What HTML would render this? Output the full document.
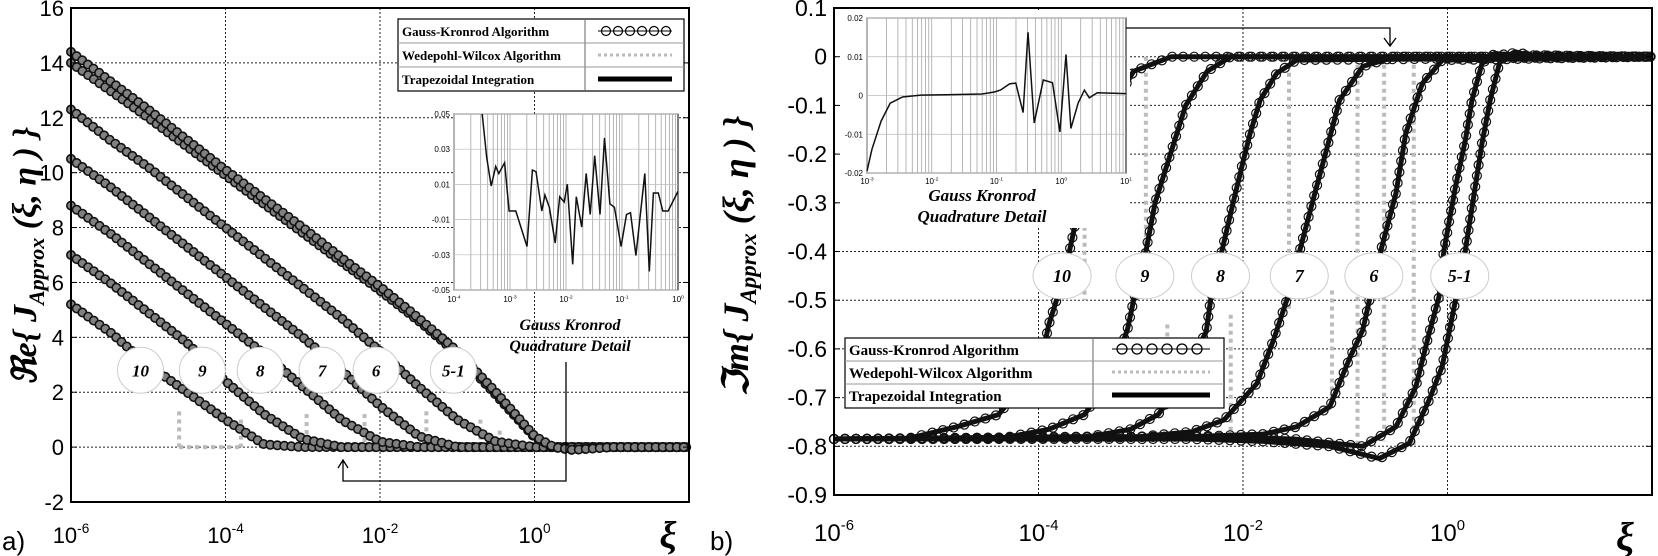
<!DOCTYPE html>
<html><head><meta charset="utf-8"><style>
html,body{margin:0;padding:0;background:#fff;}
svg{display:block;font-family:"Liberation Sans",sans-serif;}
.ser{font-family:"Liberation Serif",serif;font-weight:bold;}
</style></head><body>
<svg id="fig" width="1658" height="556" viewBox="0 0 1658 556" xmlns="http://www.w3.org/2000/svg">
<g id="layerL"></g>
<g id="layerR"></g>
</svg>
<script>
// ---------- Panel a data (log10 xi grid, Re values) ----------
const reLogX = [-6,-5.5,-5,-4.5,-4,-3.5,-3,-2.5,-2,-1.5,-1,-0.5,0,0.25,0.5,1,1.5,2];
const reCurve10 = [5.2,4.2,3.0,2.0,1.0,0.1,0,0,0,0,0,0,0,0,0,0,0,0];
const reCurve9 = [7.0,6.0,4.9,3.8,2.4,1.2,0.3,0,0,0,0,0,0,0,0,0,0,0];
const reCurve8 = [8.8,7.8,6.7,5.6,4.5,3.4,2.2,1.0,0.2,0,0,0,0,0,0,0,0,0];
const reCurve7 = [10.5,9.5,8.4,7.3,6.2,5.1,4.0,2.8,1.5,0.4,0,0,0,0,0,0,0,0];
const reCurve6 = [12.3,11.2,10.2,9.1,8.0,6.9,5.8,4.7,3.5,2.2,1.0,0.2,0,0,0,0,0,0];
const reCurve5a = [14.4,13.35,12.3,11.2,10.1,9.05,8.0,6.9,5.85,4.7,3.5,2.0,0.4,0.0,-0.1,0,0,0];
const reCurve5b = [14.0,13.0,12.0,10.95,9.9,8.85,7.8,6.75,5.7,4.6,3.4,1.9,0.35,0.0,-0.1,0,0,0];
const reYTicks = [-2,0,2,4,6,8,10,12,14,16];
const reXTicks = [-6,-4,-2,0];
const reLabels = ["10","9","8","7","6","5-1"];
const reLabelLogX = [-5.1,-4.3,-3.55,-2.75,-2.05,-1.05];
const reLabelVal = [2.8,2.8,2.8,2.8,2.8,2.8];
// inset a
const insALogX = [-3.496,-3.416,-3.336,-3.256,-3.2,-3.096,-3.016,-2.896,-2.696,-2.6,-2.536,-2.432,-2.376,-2.296,-2.192,-2.112,-2.032,-1.976,-1.88,-1.816,-1.72,-1.64,-1.568,-1.488,-1.392,-1.312,-1.216,-1.136,-1.016,-0.92,-0.848,-0.752,-0.592,-0.512,-0.44,-0.352,-0.272,-0.176,0];
const insAVal = [0.05,0.0253,0.0091,0.0202,0.0162,0.0223,-0.0051,-0.0051,-0.0253,0.0182,0.0172,-0.0051,0.004,-0.0031,-0.0233,0.003,0,0.0101,-0.0354,0.003,-0.0142,0.0162,-0.0071,0.0263,-0.0071,0.0364,-0.001,-0.003,-0.0253,-0.0071,-0.0061,-0.0304,0.0162,-0.0395,0.0051,0.0051,-0.0051,-0.0051,0.0061];
const insAYTicks = [-0.05,-0.03,-0.01,0.01,0.03,0.05];
const insAXTicks = [-4,-3,-2,-1,0];

// ---------- Panel b data ----------
const imC10X = [-6,-5.3,-4.8,-4.39,-4.1,-3.95,-3.9,-3.75,-3.65,-3.54,-3.4,-3.07,-2.7,2];
const imC10V = [-0.785,-0.785,-0.76,-0.735,-0.66,-0.6,-0.551,-0.45,-0.353,-0.257,-0.15,-0.03,0,0];
const imC9X = [-6,-4.4,-3.9,-3.55,-3.3,-3.13,-3.07,-2.95,-2.86,-2.71,-2.56,-2.35,-2.12,2];
const imC9V = [-0.785,-0.785,-0.765,-0.735,-0.66,-0.56,-0.5,-0.4,-0.3,-0.2,-0.1,-0.03,0,0];
const imC8X = [-6,-3.5,-3.1,-2.83,-2.6,-2.45,-2.36,-2.317,-2.204,-2.09,-1.993,-1.93,-1.832,-1.67,-1.476,2];
const imC8V = [-0.785,-0.78,-0.765,-0.735,-0.67,-0.6,-0.565,-0.5,-0.397,-0.294,-0.21,-0.157,-0.089,-0.034,-0.007,0];
const imC7X = [-6,-3,-2.5,-2.187,-1.864,-1.702,-1.573,-1.444,-1.314,-1.184,-1.055,-0.828,-0.505,2];
const imC7V = [-0.785,-0.78,-0.77,-0.746,-0.671,-0.582,-0.5,-0.397,-0.294,-0.192,-0.089,-0.02,0,0];
const imC6X = [-6,-2.5,-1.8,-1.476,-1.152,-0.958,-0.828,-0.764,-0.65,-0.505,-0.408,-0.246,-0.052,2];
const imC6V = [-0.785,-0.78,-0.775,-0.76,-0.719,-0.62,-0.561,-0.5,-0.397,-0.281,-0.157,-0.055,-0.007,0];
const imC5aX = [-6,-2.5,-1.5,-0.828,-0.505,-0.31,-0.18,-0.083,-0.034,0.078,0.175,0.24,0.337,0.466,0.6,2];
const imC5aV = [-0.785,-0.78,-0.785,-0.8,-0.76,-0.678,-0.568,-0.493,-0.397,-0.267,-0.171,-0.089,-0.014,0.007,0.003,0];
const imC5bX = [-6,-2.5,-1.8,-1.15,-0.667,-0.376,-0.18,-0.052,0.078,0.175,0.256,0.337,0.418,0.515,0.66,0.8,2];
const imC5bV = [-0.785,-0.785,-0.79,-0.8,-0.825,-0.794,-0.705,-0.636,-0.5,-0.397,-0.287,-0.178,-0.089,-0.007,0.01,0.003,0];
const imYTicks = [-0.9,-0.8,-0.7,-0.6,-0.5,-0.4,-0.3,-0.2,-0.1,0,0.1];
const imYTickText = ["-0.9","-0.8","-0.7","-0.6","-0.5","-0.4","-0.3","-0.2","-0.1","0","0.1"];
const imXTicks = [-6,-4,-2,0];
const imLabels = ["10","9","8","7","6","5-1"];
const imLabelLogX = [-3.77,-2.96,-2.22,-1.45,-0.72,0.12];
const imLabelVal = [-0.45,-0.45,-0.45,-0.45,-0.45,-0.45];
// inset b
const insBLogX = [-3,-2.924,-2.782,-2.641,-2.452,-2.168,-1.79,-1.222,-1.033,-0.939,-0.797,-0.702,-0.589,-0.513,-0.418,-0.277,-0.135,-0.021,0.073,0.149,0.262,0.357,0.433,0.556,1];
const insBVal = [-0.0195,-0.0139,-0.0066,-0.002,-0.0004,0.0001,0.0002,0.0004,0.0009,0.0014,0.003,0.0032,-0.0044,0.0163,-0.0071,0.004,0.0033,-0.0094,0.0106,-0.0085,-0.0019,0.0014,-0.0006,0.0007,0.0005];
const insBYTicks = [-0.02,-0.01,0,0.01,0.02];
const insBXTicks = [-3,-2,-1,0,1];

const NS = "http://www.w3.org/2000/svg";
function mk(parent, tag, attrs, text){
  const e = document.createElementNS(NS, tag);
  for (const k in attrs) e.setAttribute(k, attrs[k]);
  if (text !== undefined) e.textContent = text;
  parent.appendChild(e);
  return e;
}
function axisLin(v0,v1,p0,p1){ return v => p0 + (v-v0)/(v1-v0)*(p1-p0); }

const LA = {x0:71,x1:689,y0:8,y1:502,lmin:-6,lmax:2,vmin:-2,vmax:16};
const RA = {x0:834,x1:1652,y0:8,y1:495,lmin:-6,lmax:2,vmin:-0.9,vmax:0.1};
function pathD(xs,vs,sx,sy){ return xs.map((l,i)=>(i?"L":"M")+sx(l).toFixed(1)+","+sy(vs[i]).toFixed(1)).join(" "); }
function markersAlong(g, path, step, r, fill, sw){
  const len = path.getTotalLength();
  for (let s=0; s<=len; s+=step){
    const p = path.getPointAtLength(s);
    const c = mk(g,"circle",{cx:p.x.toFixed(1),cy:p.y.toFixed(1),r:r,fill:fill,stroke:"#111","stroke-width":sw});
    
    
  }
}
function xTickLabel(g,x,y,exp,fs){
  const t = mk(g,"text",{x:x,y:y,"text-anchor":"middle","font-size":fs});
  
  
  mk(t,"tspan",{},"10");
  mk(t,"tspan",{dy:-fs*0.45,"font-size":fs*0.62},String(exp));
}

// ================= Panel A =================
(function(){
  const g = document.getElementById("layerL");
  const sx = axisLin(LA.lmin,LA.lmax,LA.x0,LA.x1), sy = axisLin(LA.vmin,LA.vmax,LA.y1,LA.y0);
  const grid = mk(g,"g",{});
   
  reYTicks.forEach(v=>{ if(v>LA.vmin && v<LA.vmax) mk(grid,"line",{x1:LA.x0,x2:LA.x1,y1:sy(v),y2:sy(v),stroke:"#222","stroke-width":1,"stroke-dasharray":"2,2"}); });
  reXTicks.forEach(l=>{ if(l>LA.lmin) mk(grid,"line",{x1:sx(l),x2:sx(l),y1:LA.y0,y2:LA.y1,stroke:"#222","stroke-width":1,"stroke-dasharray":"2,2"}); });
  const ww = mk(g,"g",{stroke:"#bbb","stroke-width":4,"stroke-dasharray":"4,4",fill:"none"});
   
  [[-4.6,1.3],[-3.8,1.0],[-2.95,1.2],[-2.2,1.2],[-1.4,1.3],[-0.7,1.0],[-0.45,0.6]].forEach(p=>{
    mk(ww,"line",{x1:sx(p[0]),x2:sx(p[0]),y1:sy(p[1]),y2:sy(0)});
  });
  mk(ww,"line",{x1:sx(-4.6),x2:sx(-3.8),y1:sy(0),y2:sy(0)});
  const curves = [reCurve10,reCurve9,reCurve8,reCurve7,reCurve6,reCurve5b,reCurve5a];
  curves.forEach((c,i)=>{
    const cg = mk(g,"g",{});
     
    const p = mk(cg,"path",{d:pathD(reLogX,c,sx,sy),fill:"none",stroke:"#111","stroke-width":3});
    markersAlong(cg,p,7,4.2,"#808080",1.6);
  });
  const ax = mk(g,"rect",{x:LA.x0,y:LA.y0,width:LA.x1-LA.x0,height:LA.y1-LA.y0,fill:"none",stroke:"#000","stroke-width":2});
   
  reYTicks.forEach(v=>{
    mk(g,"line",{x1:LA.x0,x2:LA.x0+6,y1:sy(v),y2:sy(v),stroke:"#000"});
    mk(g,"line",{x1:LA.x1,x2:LA.x1-6,y1:sy(v),y2:sy(v),stroke:"#000"});
    const t = mk(g,"text",{x:64,y:sy(v)+8,"text-anchor":"end","font-size":22},String(v));
     
  });
  reXTicks.forEach(l=> xTickLabel(g,sx(l),543,l,22));
  reLabels.forEach((s,i)=>{
    const lg = mk(g,"g",{});
     
    const cx = sx(reLabelLogX[i]), cy = sy(reLabelVal[i]);
    mk(lg,"ellipse",{cx:cx,cy:cy,rx:23,ry:23,fill:"#fff",stroke:"#ccc","stroke-width":1});
    mk(lg,"text",{x:cx,y:cy+6,"text-anchor":"middle","font-size":17,"font-style":"italic",class:"ser"},s);
  });
  const ig = mk(g,"g",{});
   
  const I = {x0:454,x1:678,y0:114,y1:290};
  const ix = axisLin(-4,0,I.x0,I.x1), iy = axisLin(-0.05,0.05,I.y1,I.y0);
  mk(ig,"rect",{x:I.x0,y:I.y0,width:I.x1-I.x0,height:I.y1-I.y0,fill:"#fff",stroke:"#000","stroke-width":1});
  for(let d=-4; d<0; d++) for(let k=1;k<10;k++){ const xx = ix(d+Math.log10(k)); mk(ig,"line",{x1:xx,x2:xx,y1:I.y0,y2:I.y1,stroke:"#999","stroke-width":0.7}); }
  insAYTicks.forEach(v=>{ mk(ig,"line",{x1:I.x0,x2:I.x1,y1:iy(v),y2:iy(v),stroke:"#bbb","stroke-width":0.7});
    mk(ig,"text",{x:I.x0-4,y:iy(v)+3,"text-anchor":"end","font-size":8},String(v)); });
  insAXTicks.forEach(l=> xTickLabel(ig,ix(l),I.y1+12,l,8));
  mk(ig,"path",{d:pathD(insALogX,insAVal,ix,iy),fill:"none",stroke:"#111","stroke-width":1.5});
  mk(ig,"text",{x:570,y:330,"text-anchor":"middle","font-size":16,"font-style":"italic",class:"ser"},"Gauss Kronrod");
  mk(ig,"text",{x:570,y:351,"text-anchor":"middle","font-size":16,"font-style":"italic",class:"ser"},"Quadrature Detail");
  mk(g,"path",{d:"M566,362 L566,481 L343,481 L343,460 M338,468 L343,460 L348,468",fill:"none",stroke:"#000","stroke-width":1.3});
  const lgd = mk(g,"g",{});
   
  mk(lgd,"rect",{x:398,y:19,width:286,height:72,fill:"#fff",stroke:"#000","stroke-width":1.2});
  mk(lgd,"line",{x1:585,x2:585,y1:19,y2:91,stroke:"#666"});
  mk(lgd,"line",{x1:398,x2:684,y1:43,y2:43,stroke:"#999"});
  mk(lgd,"line",{x1:398,x2:684,y1:67,y2:67,stroke:"#999"});
  ["Gauss-Kronrod Algorithm","Wedepohl-Wilcox Algorithm","Trapezoidal Integration"].forEach((s,i)=>{
    const t = mk(lgd,"text",{x:402,y:36+i*24,"font-size":13,class:"ser"},s);
     
  });
  mk(lgd,"line",{x1:598,x2:672,y1:31,y2:31,stroke:"#000"});
  for(let k=0;k<6;k++) mk(lgd,"circle",{cx:606+k*12,cy:31,r:4.5,fill:"none",stroke:"#000","stroke-width":1.2});
  mk(lgd,"line",{x1:598,x2:672,y1:55,y2:55,stroke:"#bbb","stroke-width":3,"stroke-dasharray":"3,3"});
  mk(lgd,"line",{x1:598,x2:672,y1:79,y2:79,stroke:"#000","stroke-width":5});
  const yt = mk(g,"text",{transform:"translate(36,256) rotate(-90)","text-anchor":"middle","font-size":34,"font-style":"italic",class:"ser"});
   
  mk(yt,"tspan",{},"ℜe{ J");
  mk(yt,"tspan",{dy:8,"font-size":22},"Approx");
  mk(yt,"tspan",{dy:-8},"\u00a0(ξ, η ) }");
  const xt = mk(g,"text",{x:668,y:548,"text-anchor":"middle","font-size":38,"font-style":"italic",class:"ser"},"ξ");
   
  const pl = mk(g,"text",{x:2,y:550,"font-size":26},"a)");
   
})();

// ================= Panel B =================
(function(){
  const g = document.getElementById("layerR");
  const sx = axisLin(RA.lmin,RA.lmax,RA.x0,RA.x1), sy = axisLin(RA.vmin,RA.vmax,RA.y1,RA.y0);
  const grid = mk(g,"g",{});
   
  imYTicks.forEach(v=>{ if(v>RA.vmin+0.01 && v<RA.vmax-0.01) mk(grid,"line",{x1:RA.x0,x2:RA.x1,y1:sy(v),y2:sy(v),stroke:"#222","stroke-width":1,"stroke-dasharray":"2,2"}); });
  imXTicks.forEach(l=>{ if(l>RA.lmin) mk(grid,"line",{x1:sx(l),x2:sx(l),y1:RA.y0,y2:RA.y1,stroke:"#222","stroke-width":1,"stroke-dasharray":"2,2"}); });
  const ww = mk(g,"g",{stroke:"#bbb","stroke-width":4,"stroke-dasharray":"4,4",fill:"none"});
   
  [[-3.55,-0.3,-0.5],[-2.74,-0.55,-0.6],[-2.95,0,-0.45],[-2.12,-0.53,-0.78],[-1.55,0,-0.52],[-1.13,-0.48,-0.7],[-0.88,0,-0.8],[-0.62,0,-0.79],[-0.33,0,-0.8]].forEach(p=>{
    mk(ww,"line",{x1:sx(p[0]),x2:sx(p[0]),y1:sy(p[1]),y2:sy(p[2])});
  });
  const cx = [imC10X,imC9X,imC8X,imC7X,imC6X,imC5aX,imC5bX];
  const cv = [imC10V,imC9V,imC8V,imC7V,imC6V,imC5aV,imC5bV];
  cx.forEach((xs,i)=>{
    const cg = mk(g,"g",{});
     
    const p = mk(cg,"path",{d:pathD(xs,cv[i],sx,sy),fill:"none",stroke:"#111","stroke-width":5,"stroke-linejoin":"round"});
    markersAlong(cg,p,11,4.5,"none",1.2);
  });
  const ax = mk(g,"rect",{x:RA.x0,y:RA.y0,width:RA.x1-RA.x0,height:RA.y1-RA.y0,fill:"none",stroke:"#000","stroke-width":2});
   
  // inset (white backdrop inside plot only)
  const ig = mk(g,"g",{});
   
  mk(ig,"rect",{x:836,y:10,width:294,height:218,fill:"#fff"});
  const I = {x0:867,x1:1126,y0:18,y1:173};
  const ix = axisLin(-3,1,I.x0,I.x1), iy = axisLin(-0.02,0.02,I.y1,I.y0);
  mk(ig,"rect",{x:I.x0,y:I.y0,width:I.x1-I.x0,height:I.y1-I.y0,fill:"#fff",stroke:"#000","stroke-width":1});
  for(let d=-3; d<1; d++) for(let k=1;k<10;k++){ const xx = ix(d+Math.log10(k)); mk(ig,"line",{x1:xx,x2:xx,y1:I.y0,y2:I.y1,stroke:"#999","stroke-width":0.7}); }
  insBYTicks.forEach(v=>{ mk(ig,"line",{x1:I.x0,x2:I.x1,y1:iy(v),y2:iy(v),stroke:"#bbb","stroke-width":0.7});
    mk(ig,"text",{x:I.x0-4,y:iy(v)+3,"text-anchor":"end","font-size":8},String(v)); });
  insBXTicks.forEach(l=> xTickLabel(ig,ix(l),I.y1+11,l,8));
  mk(ig,"path",{d:pathD(insBLogX,insBVal,ix,iy),fill:"none",stroke:"#111","stroke-width":1.5});
  mk(ig,"text",{x:982,y:201,"text-anchor":"middle","font-size":17,"font-style":"italic",class:"ser"},"Gauss Kronrod");
  mk(ig,"text",{x:982,y:222,"text-anchor":"middle","font-size":17,"font-style":"italic",class:"ser"},"Quadrature Detail");
  mk(g,"path",{d:"M1126,28 L1390,28 L1390,46 M1384,38 L1390,46 L1396,38",fill:"none",stroke:"#000","stroke-width":1.3});
  mk(g,"line",{x1:RA.x0,x2:RA.x0,y1:RA.y0,y2:RA.y1,stroke:"#000","stroke-width":2});
  mk(g,"line",{x1:RA.x0,x2:RA.x1,y1:RA.y0,y2:RA.y0,stroke:"#000","stroke-width":2});
  imYTicks.forEach((v,i)=>{
    mk(g,"line",{x1:RA.x0,x2:RA.x0+6,y1:sy(v),y2:sy(v),stroke:"#000"});
    mk(g,"line",{x1:RA.x1,x2:RA.x1-6,y1:sy(v),y2:sy(v),stroke:"#000"});
    const t = mk(g,"text",{x:827,y:sy(v)+8,"text-anchor":"end","font-size":23},imYTickText[i]);
     
  });
  imXTicks.forEach(l=> xTickLabel(g,sx(l),541,l,24));
  imLabels.forEach((s,i)=>{
    const lg = mk(g,"g",{});
     
    const x = sx(imLabelLogX[i]), y = sy(imLabelVal[i]);
    mk(lg,"ellipse",{cx:x,cy:y,rx:29,ry:23,fill:"#fff",stroke:"#ccc","stroke-width":1});
    mk(lg,"text",{x:x,y:y+6,"text-anchor":"middle","font-size":18,"font-style":"italic",class:"ser"},s);
  });
  const lgd = mk(g,"g",{});
   
  mk(lgd,"rect",{x:845,y:338,width:379,height:70,fill:"#fff",stroke:"#000","stroke-width":1.2});
  mk(lgd,"line",{x1:1093,x2:1093,y1:338,y2:408,stroke:"#666"});
  mk(lgd,"line",{x1:845,x2:1224,y1:361,y2:361,stroke:"#999"});
  mk(lgd,"line",{x1:845,x2:1224,y1:384,y2:384,stroke:"#999"});
  ["Gauss-Kronrod Algorithm","Wedepohl-Wilcox Algorithm","Trapezoidal Integration"].forEach((s,i)=>{
    const t = mk(lgd,"text",{x:849,y:355+i*23,"font-size":15,class:"ser"},s);
     
  });
  mk(lgd,"line",{x1:1112,x2:1210,y1:349,y2:349,stroke:"#000"});
  for(let k=0;k<6;k++) mk(lgd,"circle",{cx:1122+k*15,cy:349,r:5,fill:"none",stroke:"#000","stroke-width":1.3});
  mk(lgd,"line",{x1:1112,x2:1210,y1:372,y2:372,stroke:"#bbb","stroke-width":3,"stroke-dasharray":"3,3"});
  mk(lgd,"line",{x1:1112,x2:1210,y1:395,y2:395,stroke:"#000","stroke-width":5});
  const yt = mk(g,"text",{transform:"translate(748,256) rotate(-90)","text-anchor":"middle","font-size":36,"font-style":"italic",class:"ser"});
   
  mk(yt,"tspan",{},"ℑm{ J");
  mk(yt,"tspan",{dy:8,"font-size":23},"Approx");
  mk(yt,"tspan",{dy:-8},"\u00a0(ξ, η ) }");
  const xt = mk(g,"text",{x:1625,y:550,"text-anchor":"middle","font-size":40,"font-style":"italic",class:"ser"},"ξ");
   
  const pl = mk(g,"text",{x:710,y:550,"font-size":26},"b)");
   
})();
</script>
</body></html>
